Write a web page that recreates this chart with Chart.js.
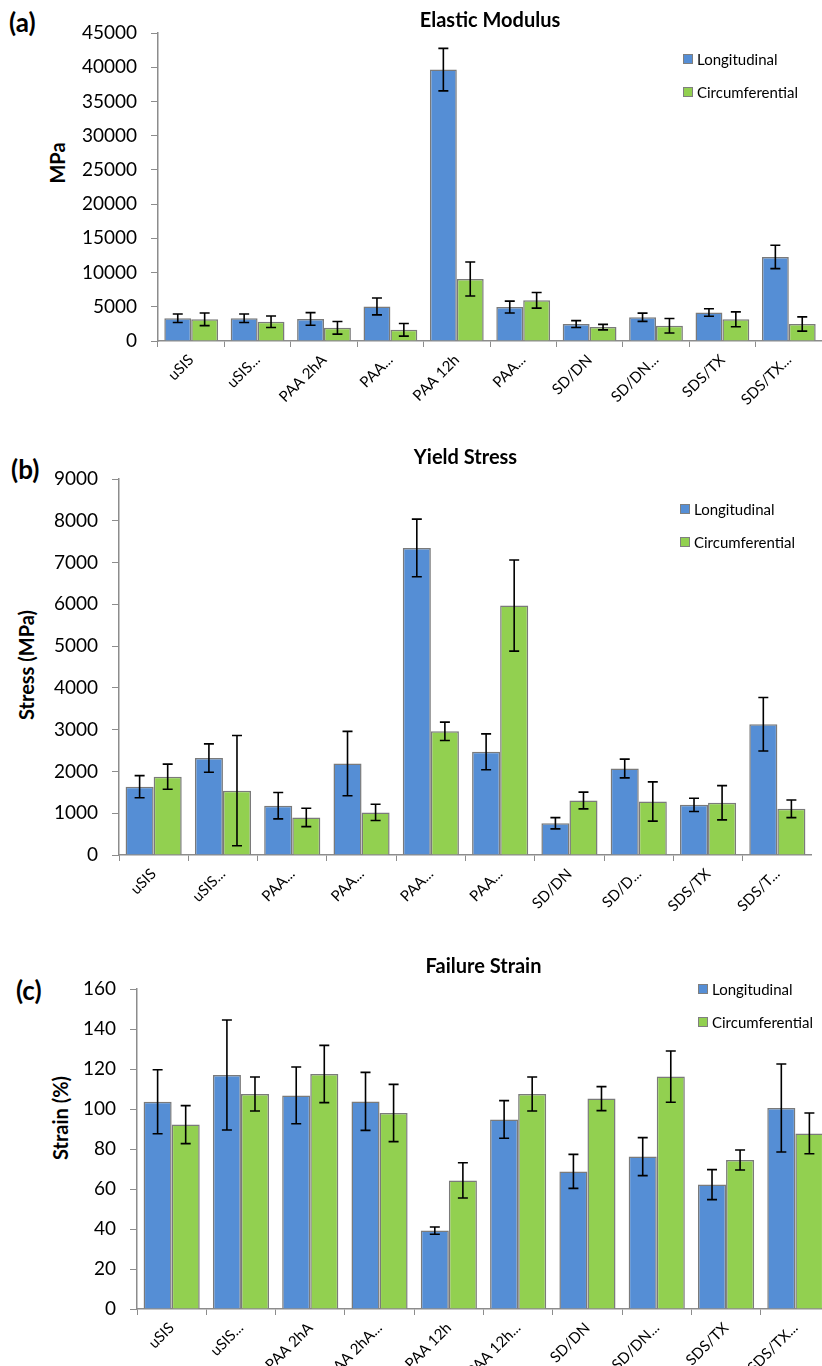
<!DOCTYPE html>
<html>
<head>
<meta charset="utf-8">
<script src="https://cdn.jsdelivr.net/npm/chart.js@4.4.0/dist/chart.umd.min.js"></script>
<style>
  body { margin: 0; width: 822px; height: 1366px; overflow: hidden; background: #fff; position: relative; font-family: Lato, sans-serif; }
  canvas { position: absolute; left: 0; }
  .tag { position: absolute; font-weight: bold; font-size: 26px; line-height: 26px; }
  .ytitle { position: absolute; font-weight: bold; font-size: 20px; white-space: nowrap; transform: translate(-50%, -50%) rotate(-90deg); }
  .legend { position: absolute; font-size: 15px; }
  .legend div { display: flex; align-items: center; height: 33px; }
  .legend span { display: inline-block; width: 8px; height: 8px; border: 1.5px solid #7f7f7f; margin-right: 4px; }
</style>
</head>
<body>
<div class="tag" style="left:9px;top:9px">(a)</div>
<div class="tag" style="left:11px;top:456px">(b)</div>
<div class="tag" style="left:16px;top:977px">(c)</div>

<div class="ytitle" style="left:57px;top:163px">MPa</div>
<div class="ytitle" style="left:26px;top:665px">Stress (MPa)</div>
<div class="ytitle" style="left:60px;top:1118px">Strain (%)</div>

<canvas id="modulus" width="822" height="430" style="top:0px"></canvas>
<canvas id="yield" width="812" height="500" style="top:430px"></canvas>
<canvas id="strain" width="830" height="436" style="top:930px"></canvas>

<div class="legend" style="left:683px;top:42px">
  <div><span style="background:#558ed5"></span>Longitudinal</div>
  <div><span style="background:#92d050"></span>Circumferential</div>
</div>
<div class="legend" style="left:680px;top:492px">
  <div><span style="background:#558ed5"></span>Longitudinal</div>
  <div><span style="background:#92d050"></span>Circumferential</div>
</div>
<div class="legend" style="left:698px;top:972px">
  <div><span style="background:#558ed5"></span>Longitudinal</div>
  <div><span style="background:#92d050"></span>Circumferential</div>
</div>

<script>
// (a) elastic modulus
const modLabels = ['uSIS', 'uSIS...', 'PAA 2hA', 'PAA...', 'PAA 12h', 'PAA...', 'SD/DN', 'SD/DN...', 'SDS/TX', 'SDS/TX...'];
const modLong = [3320, 3320, 3220, 5050, 39650, 4950, 2480, 3470, 4160, 12280];
const modLongErr = [620, 620, 920, 1240, 3100, 870, 500, 600, 550, 1700];
const modCirc = [3170, 2820, 1930, 1630, 9060, 5940, 2030, 2230, 3170, 2480];
const modCircErr = [920, 840, 920, 920, 2480, 1140, 400, 1060, 1090, 1040];

// (b) yield stress
const yieldLabels = ['uSIS', 'uSIS...', 'PAA...', 'PAA...', 'PAA...', 'PAA...', 'SD/DN', 'SD/D...', 'SDS/TX', 'SDS/T...'];
const yieldLong = [1635, 2320, 1180, 2190, 7350, 2470, 760, 2070, 1200, 3130];
const yieldLongErr = [265, 340, 315, 770, 690, 430, 135, 225, 160, 640];
const yieldCirc = [1875, 1540, 900, 1020, 2960, 5970, 1305, 1280, 1250, 1105];
const yieldCircErr = [300, 1320, 220, 195, 220, 1090, 200, 470, 410, 210];

// (c) failure strain
const strainLabels = ['uSIS', 'uSIS...', 'PAA 2hA', 'PAA 2hA...', 'PAA 12h', 'PAA 12h...', 'SD/DN', 'SD/DN...', 'SDS/TX', 'SDS/TX...'];
const strainLong = [103.6, 117, 106.8, 103.8, 39.2, 94.8, 68.8, 76.2, 62.2, 100.5];
const strainLongErr = [16, 27.5, 14.2, 14.5, 1.8, 9.4, 8.5, 9.5, 7.5, 22];
const strainCirc = [92.2, 107.5, 117.5, 98, 64.3, 107.5, 105.2, 116.2, 74.5, 87.8];
const strainCircErr = [9.5, 8.5, 14.3, 14.3, 8.8, 8.5, 6, 12.8, 5, 10.2];

const blue = '#558ed5';
const green = '#92d050';
const axisGrey = '#8c8c8c';

// draws +/- error whiskers on each bar
const errorBars = {
  id: 'errorBars',
  afterDatasetsDraw(chart) {
    const ctx = chart.ctx;
    const y = chart.scales.y;
    ctx.save();
    ctx.strokeStyle = '#000';
    ctx.lineWidth = 1.6;
    chart.data.datasets.forEach((ds, i) => {
      chart.getDatasetMeta(i).data.forEach((bar, j) => {
        const top = y.getPixelForValue(ds.data[j] + ds.errors[j]);
        const bot = y.getPixelForValue(ds.data[j] - ds.errors[j]);
        ctx.beginPath();
        ctx.moveTo(bar.x, top); ctx.lineTo(bar.x, bot);
        ctx.moveTo(bar.x - 5, top); ctx.lineTo(bar.x + 5, top);
        ctx.moveTo(bar.x - 5, bot); ctx.lineTo(bar.x + 5, bot);
        ctx.stroke();
      });
    });
    ctx.restore();
  }
};

function makeChart(id, o) {
  new Chart(document.getElementById(id), {
    type: 'bar',
    data: {
      labels: o.labels,
      datasets: [
        { label: 'Longitudinal', data: o.long, errors: o.longErr, backgroundColor: blue },
        { label: 'Circumferential', data: o.circ, errors: o.circErr, backgroundColor: green }
      ]
    },
    options: {
      responsive: false,
      animation: false,
      devicePixelRatio: 1,
      layout: { padding: 0 },
      datasets: {
        bar: { borderColor: '#7a7a7a', borderWidth: 1.5, categoryPercentage: 0.81, barPercentage: 1 }
      },
      plugins: {
        legend: { display: false },
        tooltip: { enabled: false },
        title: {
          display: true,
          text: o.title,
          fullSize: false,
          color: '#000',
          font: { family: 'Lato', size: 20, weight: 'bold' },
          padding: { top: o.titleTop, bottom: o.titleBottom }
        }
      },
      scales: {
        x: {
          afterFit(s) { s.height = o.xHeight; s.paddingLeft = 0; s.paddingRight = 0; },
          grid: { drawOnChartArea: false, tickLength: 6, color: axisGrey },
          border: { color: axisGrey, width: 1.5 },
          ticks: {
            autoSkip: false, maxRotation: 45, minRotation: 45, padding: 4,
            color: '#000', font: { family: 'Lato', size: 15 }
          }
        },
        y: {
          min: 0,
          max: o.max,
          afterFit(s) { s.width = o.yWidth; },
          grid: { drawOnChartArea: false, tickLength: 7, color: axisGrey },
          border: { color: axisGrey, width: 1.5 },
          ticks: {
            stepSize: o.step, padding: 14, color: '#000',
            font: { family: 'Lato', size: 19 },
            callback: v => String(v)
          }
        }
      }
    },
    plugins: [errorBars]
  });
}

makeChart('modulus', {
  labels: modLabels, long: modLong, longErr: modLongErr, circ: modCirc, circErr: modCircErr,
  title: 'Elastic Modulus', max: 45000, step: 5000,
  yWidth: 158, xHeight: 89, titleTop: 9, titleBottom: 0
});
makeChart('yield', {
  labels: yieldLabels, long: yieldLong, longErr: yieldLongErr, circ: yieldCirc, circErr: yieldCircErr,
  title: 'Yield Stress', max: 9000, step: 1000,
  yWidth: 119, xHeight: 75, titleTop: 16, titleBottom: 9
});
makeChart('strain', {
  labels: strainLabels, long: strainLong, longErr: strainLongErr, circ: strainCirc, circErr: strainCircErr,
  title: 'Failure Strain', max: 160, step: 20,
  yWidth: 137, xHeight: 57, titleTop: 25, titleBottom: 10
});
</script>
</body>
</html>
